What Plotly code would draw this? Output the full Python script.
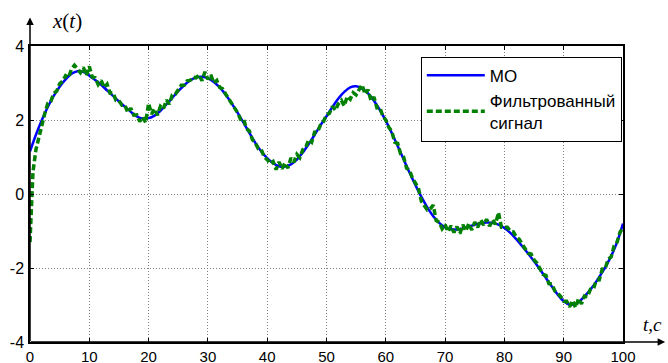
import plotly.graph_objects as go

# Mean (МО) sampled every 1 s
t_mean = list(range(0, 101))
mean_vals = [
    1.15, 1.6, 2.0, 2.35, 2.65, 2.9, 3.1, 3.25, 3.32, 3.3,
    3.2, 3.08, 2.95, 2.8, 2.65, 2.5, 2.36, 2.22, 2.1, 2.04,
    2.05, 2.12, 2.25, 2.42, 2.6, 2.78, 2.94, 3.07, 3.15, 3.17,
    3.13, 3.03, 2.88, 2.68, 2.45, 2.2, 1.93, 1.65, 1.38, 1.15,
    0.97, 0.83, 0.75, 0.74, 0.8, 0.93, 1.12, 1.35, 1.6, 1.86,
    2.1, 2.35, 2.58, 2.76, 2.88, 2.91, 2.85, 2.72, 2.52, 2.27,
    1.98, 1.65, 1.3, 0.94, 0.58, 0.24, -0.08, -0.36, -0.6, -0.78,
    -0.9, -0.95, -0.96, -0.93, -0.88, -0.83, -0.79, -0.77, -0.78, -0.83,
    -0.92, -1.05, -1.22, -1.41, -1.61, -1.82, -2.04, -2.27, -2.5, -2.72,
    -2.9, -2.99, -2.97, -2.85, -2.68, -2.48, -2.24, -1.98, -1.68, -1.3,
    -0.8,
]

# Filtered signal sampled every 0.5 s
filtered_vals = [
    -1.3, 0.6, 1.2, 1.55, 1.92, 2.18, 2.45, 2.5, 2.72, 2.78,
    2.98, 3.05, 3.2, 3.15, 3.38, 3.48, 3.38, 3.28, 3.42, 3.2,
    3.45, 3.16, 3.14, 2.96, 3.07, 2.88, 2.97, 2.73, 2.74, 2.53,
    2.52, 2.4, 2.4, 2.2, 2.32, 2.13, 2.14, 1.96, 2.08, 1.93,
    2.45, 2.16, 2.3, 2.13, 2.37, 2.3, 2.54, 2.43, 2.68, 2.7,
    2.82, 2.94, 2.94, 3.06, 3.07, 3.16, 3.14, 3.22, 3.06, 3.3,
    3.1, 3.22, 3.0, 3.07, 2.88, 2.84, 2.7, 2.57, 2.48, 2.32,
    2.2, 2.02, 2.03, 1.77, 1.7, 1.47, 1.38, 1.22, 1.2, 1.0,
    0.93, 0.82, 0.88, 0.66, 0.87, 0.68, 0.84, 0.7, 0.97, 0.86,
    1.07, 0.98, 1.2, 1.26, 1.47, 1.4, 1.67, 1.68, 1.87, 1.96,
    2.14, 2.18, 2.37, 2.26, 2.44, 2.53, 2.38, 2.64, 2.56, 2.74,
    2.68, 2.82, 2.95, 2.7, 2.82, 2.53, 2.62, 2.33, 2.34, 2.1,
    2.0, 1.8, 1.7, 1.4, 1.37, 1.08, 1.0, 0.7, 0.64, 0.43,
    0.3, 0.16, -0.2, -0.32, -0.43, -0.4, -0.3, -0.72, -0.76, -0.94,
    -0.83, -1.02, -0.86, -1.04, -0.88, -1.07, -0.83, -1.0, -0.8, -0.97,
    -0.76, -0.9, -0.7, -0.84, -0.68, -0.87, -0.7, -0.82, -0.5, -0.9,
    -0.9, -0.9, -1.0, -1.02, -1.16, -1.22, -1.36, -1.47, -1.6, -1.62,
    -1.78, -1.87, -2.0, -2.17, -2.2, -2.42, -2.43, -2.62, -2.68, -2.77,
    -2.9, -2.9, -3.05, -2.88, -3.07, -2.83, -2.97, -2.76, -2.78, -2.58,
    -2.57, -2.33, -2.32, -2.03, -2.02, -1.76, -1.7, -1.4, -1.3, -1.03,
    -0.92,
]
t_filtered = [i * 0.5 for i in range(len(filtered_vals))]

x_ticks = list(range(0, 101, 10))
x_tick_text = [str(v) for v in x_ticks]
y_ticks = [-4, -2, 0, 2, 4]
y_tick_text = ["-4", "-2", "0", "2", "4"]

FONT = "Arial, Liberation Sans, sans-serif"
SERIF = "Liberation Serif, Times New Roman, serif"

fig = go.Figure()
fig.add_trace(go.Scatter(
    x=t_mean, y=mean_vals, mode="lines", name="МО",
    line=dict(color="#0000ff", width=2.5, shape="spline"),
))
fig.add_trace(go.Scatter(
    x=t_filtered, y=filtered_vals, mode="lines", name="Фильтрованный<br>сигнал",
    line=dict(color="#008000", width=3.5, dash="6px,3px"),
))

axis_common = dict(
    showline=True, linecolor="black", linewidth=1.5, mirror="ticks",
    ticks="inside", ticklen=4, tickcolor="black", tickwidth=1,
    showgrid=True, gridcolor="#808080", gridwidth=1, griddash="1px,2px",
    zeroline=False, automargin=False,
)

fig.update_xaxes(range=[0, 100], tickvals=x_ticks, ticktext=x_tick_text,
                 ticklabelstandoff=0,
                 tickfont=dict(family=FONT, size=15, color="black"),
                 **axis_common)
fig.update_yaxes(range=[-4, 4], tickvals=y_ticks, ticktext=y_tick_text,
                 ticklabelstandoff=1,
                 tickfont=dict(family=FONT, size=16, color="black"),
                 **axis_common)

# Axis arrows and axis titles
fig.add_annotation(x=0, y=1.096, xref="paper", yref="paper", ax=0, ay=325,
                   text="", showarrow=True,
                   arrowhead=2, arrowsize=1, arrowwidth=1.5, arrowcolor="black")
fig.add_annotation(x=1.071, y=0, xref="paper", yref="paper", ax=-636, ay=0,
                   text="", showarrow=True,
                   arrowhead=2, arrowsize=1, arrowwidth=1.5, arrowcolor="black")
fig.add_annotation(x=0.062, y=1.083, xref="paper", yref="paper", showarrow=False,
                   xanchor="center", yanchor="middle",
                   text="<i>x</i>(<i>t</i>)",
                   font=dict(family=SERIF, size=21, color="black"))
fig.add_annotation(x=1.05, y=0.06, xref="paper", yref="paper", showarrow=False,
                   xanchor="center", yanchor="middle",
                   text="<i>t</i>,<i>c</i>",
                   font=dict(family=SERIF, size=19, color="black"))

fig.update_layout(
    width=668, height=363,
    margin=dict(l=30, r=45, t=46, b=21),
    paper_bgcolor="white", plot_bgcolor="white",
    font=dict(family=FONT, size=16, color="black"),
    showlegend=True,
    legend=dict(
        x=0.998, y=0.964, xanchor="right", yanchor="top",
        bgcolor="white", bordercolor="black", borderwidth=1,
        font=dict(family=FONT, size=17, color="black"),
        itemwidth=58, tracegroupgap=2,
    ),
)

fig.write_html("out.html")
